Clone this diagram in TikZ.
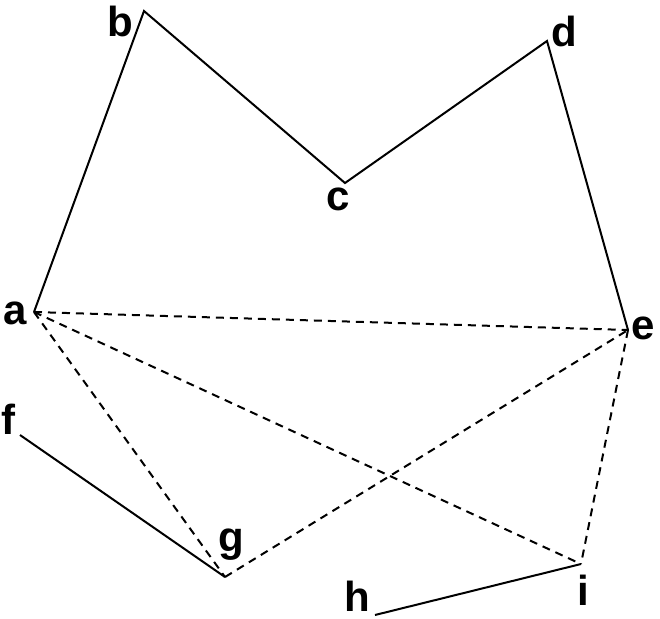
\documentclass[tikz,border=0pt]{standalone}
\usepackage{fontspec}
\setmainfont{Liberation Sans}
\usepackage{tikz}

\begin{document}
\begin{tikzpicture}[x=0.5pt, y=-0.5pt,
        lbl/.style={font=\fontsize{21}{24}\selectfont\bfseries, inner sep=0pt},
        edge/.style={line width=1pt},
        diag/.style={line width=1pt, dash pattern=on 4pt off 3pt}]
        \useasboundingbox (0,0) rectangle (660,618);

        % Points
        \coordinate (a) at (34,312);
        \coordinate (b) at (144,11);
        \coordinate (c) at (345,183);
        \coordinate (d) at (547,41);
        \coordinate (e) at (628,330);
        \coordinate (f) at (20,435);
        \coordinate (g) at (225,577);
        \coordinate (h) at (375,615);
        \coordinate (i) at (581,564);

        % Labels
        \node[lbl] (la) at (15,313) {a};
        \node[lbl] (lb) at (120,21) {b};
        \node[lbl] (lc) at (338,199) {c};
        \node[lbl] (ld) at (564,31) {d};
        \node[lbl] (le) at (643,328) {e};
        \node[lbl] (lf) at (8,419) {f};
        \node[lbl] (lg) at (231,545) {g};
        \node[lbl] (lh) at (357,596) {h};
        \node[lbl] (li) at (583,590) {i};

        % Polygon chain
        \draw[edge] (a) -- (b) -- (c) -- (d) -- (e);
        \draw[edge] (f) -- (g);
        \draw[edge] (h) -- (i);

        % Diagonals
        \draw[diag] (a) -- (e);
        \draw[diag] (a) -- (g);
        \draw[diag] (a) -- (i);
        \draw[diag] (g) -- (e);
        \draw[diag] (e) -- (i);
    \end{tikzpicture}
\end{document}
